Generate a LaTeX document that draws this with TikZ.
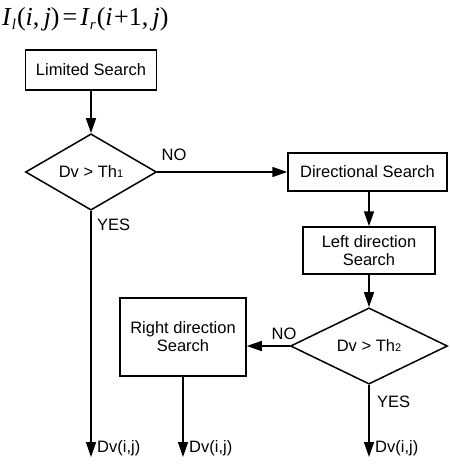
\documentclass[tikz,border=0pt]{standalone}
\usepackage{fontspec}
\setmainfont{Liberation Sans}
\newfontfamily\eqfont{Liberation Serif}
\usetikzlibrary{shapes.geometric,arrows.meta}
\tikzset{
  flow/.style={line width=1.5pt},
  tip/.style={flow,-{Triangle[length=15pt,width=10pt]}},
  box/.style={draw,line width=1.5pt,rectangle,inner sep=0pt,align=center,font=\fontsize{16.5}{18}\selectfont},
  cond/.style={draw,line width=1.5pt,diamond,inner sep=0pt,font=\fontsize{16.5}{18}\selectfont},
  lbl/.style={font=\fontsize{16.5}{18}\selectfont,inner sep=0pt},
}
\newcommand{\thsub}[1]{{\fontsize{11}{12}\selectfont #1}}
\newcommand{\eqsub}[1]{\raisebox{-4.5pt}{\fontsize{15}{15}\selectfont\itshape #1}}
\begin{document}
\begin{tikzpicture}[x=1pt,y=-1pt]
\useasboundingbox[fill=white] (0,0) rectangle (450,465);

% relation between the two image rows
\node[anchor=west,inner sep=0pt] (eq) at (2,19)
  {\eqfont\fontsize{26}{29}\selectfont\textit{I}\eqsub{l}\kern1pt(\textit{i},\,\textit{j})\kern3pt=\kern3pt\textit{I}\eqsub{r}\kern1pt(\textit{i}\kern1.5pt+1,\,\textit{j})};

% process boxes
\node[box,minimum width=131pt,minimum height=40pt] (lim) at (91,70) {Limited Search};
\node[box,minimum width=159pt,minimum height=38pt] (dir) at (367.5,172) {Directional Search};
\node[box,minimum width=132pt,minimum height=47pt] (lft) at (369,250.5) {Left direction\\Search};
\node[box,minimum width=126pt,minimum height=78pt] (rgt) at (183,337) {Right direction\\Search};

% decisions
\node[cond,minimum width=131pt,minimum height=76pt] (d1) at (91,172) {Dv > Th\thsub{1}};
\node[cond,minimum width=157pt,minimum height=75pt] (d2) at (369,346) {Dv > Th\thsub{2}};

% outputs
\coordinate (o1) at (91,457);
\coordinate (o2) at (183,457);
\coordinate (o3) at (369,457);

% connectors
\draw[tip] (lim.south) -- (d1.north);
\draw[tip] (d1.east) -- (dir.west);
\draw[tip] (d1.south) -- (o1);
\draw[tip] (lft.north |- dir.south) -- (lft.north);
\draw[tip] (lft.south) -- (d2.north);
\draw[tip] (d2.west) -- (d2.west -| rgt.east);
\draw[tip] (rgt.south) -- (o2);
\draw[tip] (d2.south) -- (o3);

% branch labels
\node[lbl] (no1) at (174,155) {NO};
\node[lbl,anchor=west] (yes1) at (97,225) {YES};
\node[lbl] (no2) at (284,334) {NO};
\node[lbl,anchor=west] (yes2) at (377,402) {YES};

\node[lbl,anchor=west] (r1) at (97,448) {Dv(i,j)};
\node[lbl,anchor=west] (r2) at (189,448) {Dv(i,j)};
\node[lbl,anchor=west] (r3) at (375,448) {Dv(i,j)};
\end{tikzpicture}
\end{document}
